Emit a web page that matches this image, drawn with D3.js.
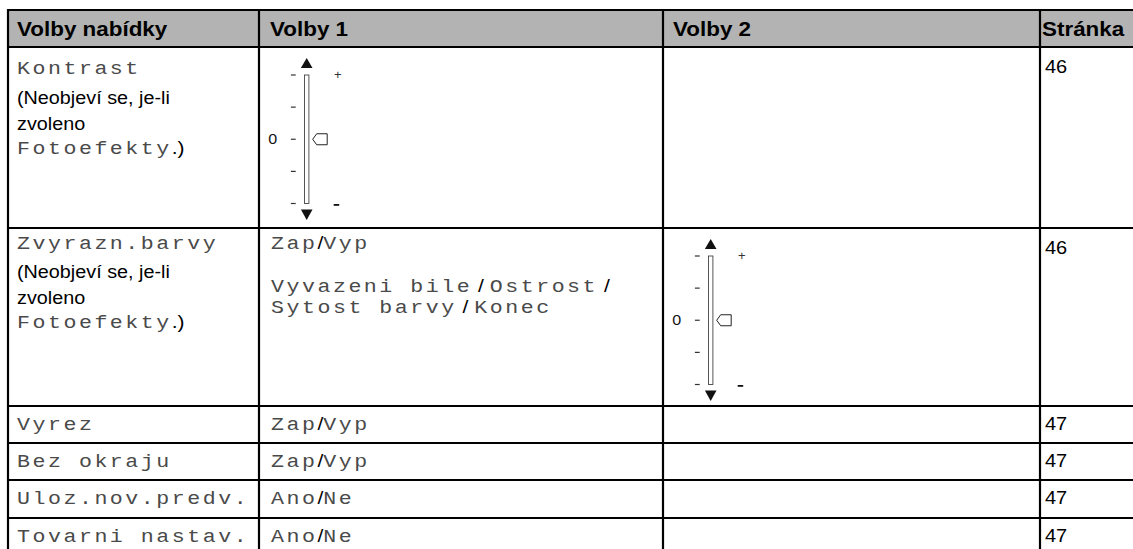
<!DOCTYPE html>
<html>
<head>
<meta charset="utf-8">
<script src="https://cdn.jsdelivr.net/npm/d3@7"></script>
<style>
html,body{margin:0;padding:0;background:#fff;overflow:hidden;}
</style>
</head>
<body>
<svg id="chart" width="1133" height="549"></svg>
<script>
// ---------- data ----------
const headers = ["Volby nabídky", "Volby 1", "Volby 2", "Stránka"];
const menuOptions = ["Kontrast", "Zvyrazn.barvy", "Vyrez", "Bez okraju", "Uloz.nov.predv.", "Tovarni nastav."];
const noteText = ["(Neobjeví se, je-li", "zvoleno"];
const noteMono = "Fotoefekty";
const noteRows = [0, 1];
const options1 = [null, "Zap/Vyp", "Zap/Vyp", "Zap/Vyp", "Ano/Ne", "Ano/Ne"];
const options1Extra = [["Vyvazeni bile", "Ostrost"], ["Sytost barvy", "Konec"]];
const pages = ["46", "46", "47", "47", "47", "47"];
const sliderLevels = [2, 1, 0, -1, -2];
const sliderCells = [{row: 0, col: 1}, {row: 1, col: 2}];

// ---------- layout ----------
const colX = [8, 259, 663, 1040, 1140];
const rowY = [10, 47, 228, 406, 443, 480, 518, 560];
const svg = d3.select("#chart");
const mono = "'Liberation Mono', 'DejaVu Sans Mono', monospace";
const sans = "'Liberation Sans', Arial, sans-serif";
const monoSize = 18, monoSpacing = 2.1, sansSize = 18.5, monoSx = 1.2, sansSx = 1.07;

// header background
svg.append("rect").attr("x", colX[0]).attr("y", rowY[0])
  .attr("width", 1133 - colX[0]).attr("height", rowY[1] - rowY[0])
  .attr("fill", "#b3b3b3");

// header texts
const headerX = [17, 270, 673, 1042];
svg.selectAll("text.hdr").data(headers).join("text")
  .attr("class", "hdr")
  .attr("transform", (d, i) => `translate(${headerX[i]},36) scale(1.15,1)`)
  .attr("font-family", sans).attr("font-weight", "bold").attr("font-size", 19.5)
  .attr("fill", "#000").text(d => d);

// helper: mixed text line
function mixed(g, x, y, parts, sx) {
  const t = g.append("text").attr("transform", `translate(${x},${y}) scale(${sx || monoSx},1)`).attr("fill", "#222");
  parts.forEach(p => {
    const ts = t.append("tspan").text(p.t);
    if (p.m) {
      ts.attr("font-family", mono).attr("font-size", monoSize).attr("letter-spacing", monoSpacing).attr("fill", "#4a4a4a");
    } else {
      ts.attr("font-family", sans).attr("font-size", sansSize - 1).attr("fill", "#000");
    }
  });
  return t;
}

function slash(str) {
  const [a, b] = str.split("/");
  return [{t: a, m: true}, {t: "/", m: false}, {t: b, m: true}];
}

const g = svg.append("g");

// menu option column
menuOptions.forEach((m, i) => {
  const top = rowY[i + 1];
  const base = i < 2 ? top + (i === 0 ? 27 : 21) : top + 24;
  mixed(g, 17, base, [{t: m, m: true}]);
  if (noteRows.includes(i)) {
    const off = i === 0 ? [57, 83, 107] : [50, 76, 100];
    const l1 = mixed(g, 17, top + off[0], [{t: noteText[0], m: false}], sansSx);
    const l2 = mixed(g, 17, top + off[1], [{t: noteText[1], m: false}], sansSx);
    l1.selectAll("tspan").attr("font-size", sansSize);
    l2.selectAll("tspan").attr("font-size", sansSize);
    mixed(g, 17, top + off[2], [{t: noteMono, m: true}, {t: ".)", m: false}]);
  }
});

// options 1 column
options1.forEach((o, i) => {
  if (!o) return;
  const top = rowY[i + 1];
  const base = i < 2 ? top + 21 : top + 24;
  mixed(g, 271, base, slash(o));
});
mixed(g, 271, rowY[2] + 64, [{t: options1Extra[0][0], m: true}, {t: " / ", m: false}, {t: options1Extra[0][1], m: true}, {t: " /", m: false}]);
mixed(g, 271, rowY[2] + 85, [{t: options1Extra[1][0], m: true}, {t: " / ", m: false}, {t: options1Extra[1][1], m: true}]);

// pages
pages.forEach((p, i) => {
  const top = rowY[i + 1];
  const base = i < 2 ? top + 26 : top + 24;
  g.append("text").attr("transform", `translate(1045,${base}) scale(1.08,1)`)
    .attr("font-family", sans).attr("font-size", 18.5).attr("fill", "#000").text(p);
});

// sliders
sliderCells.forEach(c => {
  const top = rowY[c.row + 1];
  const cx = colX[c.col] + 47.7;
  const y = d3.scaleLinear().domain([2, -2]).range([top + 28, top + 156.5]);
  const s = svg.append("g");
  // track
  s.append("rect").attr("x", cx - 2.2).attr("y", y(2)).attr("width", 4.4).attr("height", y(-2) - y(2))
    .attr("fill", "#fff").attr("stroke", "#444").attr("stroke-width", 0.9);
  // arrows
  s.append("path").attr("d", `M${cx - 5.8},${y(2) - 7}L${cx + 5.8},${y(2) - 7}L${cx},${y(2) - 17}Z`).attr("fill", "#111");
  s.append("path").attr("d", `M${cx - 5.8},${y(-2) + 6}L${cx + 5.8},${y(-2) + 6}L${cx},${y(-2) + 16.5}Z`).attr("fill", "#111");
  // ticks
  s.selectAll("line.tk").data(sliderLevels).join("line").attr("class", "tk")
    .attr("x1", cx - 15.8).attr("x2", cx - 11).attr("y1", d => y(d)).attr("y2", d => y(d))
    .attr("stroke", "#333").attr("stroke-width", 1.2);
  // zero label
  s.append("text").attr("transform", `translate(${cx - 34},${y(0) + 5}) scale(1.15,1)`).attr("text-anchor", "middle")
    .attr("font-family", sans).attr("font-size", 14).attr("fill", "#111").text("0");
  // plus
  s.append("text").attr("x", cx + 31).attr("y", y(2) + 4).attr("text-anchor", "middle")
    .attr("font-family", sans).attr("font-size", 13).attr("fill", "#333").text("+");
  // minus
  s.append("rect").attr("x", cx + 27).attr("y", y(-2) + 0.5).attr("width", 5.5).attr("height", 1.8).attr("fill", "#111");
  // pointer
  const m = y(0);
  s.append("path").attr("d", `M${cx + 6},${m}L${cx + 10},${m - 5.5}L${cx + 20.5},${m - 5.5}L${cx + 20.5},${m + 5.5}L${cx + 10},${m + 5.5}Z`)
    .attr("fill", "#fff").attr("stroke", "#222").attr("stroke-width", 1);
});

// grid lines
const lines = svg.append("g").attr("stroke", "#000").attr("stroke-width", 2.2);
colX.slice(0, 4).forEach(x => lines.append("line").attr("x1", x).attr("x2", x).attr("y1", rowY[0] - 1).attr("y2", 560));
rowY.slice(0, 7).forEach(yy => lines.append("line").attr("x1", colX[0] - 1).attr("x2", 1133).attr("y1", yy).attr("y2", yy));
</script>
</body>
</html>
